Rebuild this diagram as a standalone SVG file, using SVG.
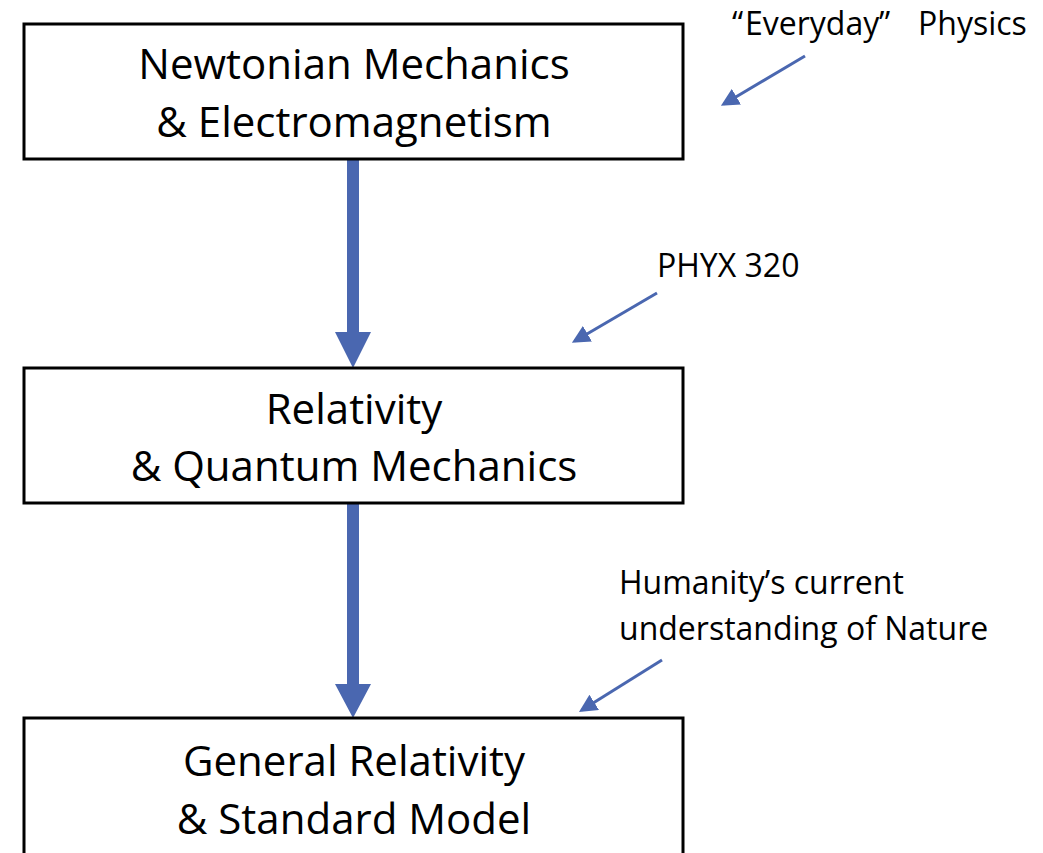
<svg xmlns="http://www.w3.org/2000/svg" width="1043" height="853" viewBox="0 0 1043 853">
  <style>
    .box { fill: #ffffff; stroke: #000000; stroke-width: 3; }
    .big { font-family: "Open Sans", "Liberation Sans", sans-serif; font-size: 42px; fill: #000000; text-anchor: middle; }
    .note { font-family: "Open Sans", "Liberation Sans", sans-serif; font-size: 32px; fill: #000000; }
    .flow { fill: #4A67B0; }
    .pointer { stroke: #4A67B0; stroke-width: 3; fill: none; marker-end: url(#tip); }
  </style>
  <defs>
    <marker id="tip" viewBox="0 0 10 10" refX="8" refY="5" markerWidth="6" markerHeight="6" markerUnits="strokeWidth" orient="auto">
      <path d="M0,0 L10,5 L0,10 Z" fill="#4A67B0"/>
    </marker>
  </defs>
  <rect width="1043" height="853" fill="#ffffff"/>

  <g id="connectors">
    <!-- thick flow arrows between boxes -->
    <path class="flow" d="M347,159 H359 V332 H371 L353,368 L335,332 H347 Z"/>
    <path class="flow" d="M347,503 H359 V684 H371 L353,718 L335,684 H347 Z"/>
    <!-- thin pointer arrows from the side notes -->
    <line class="pointer" x1="805" y1="56" x2="724" y2="104"/>
    <line class="pointer" x1="657" y1="293" x2="575" y2="341"/>
    <line class="pointer" x1="662" y1="660" x2="582" y2="710"/>
  </g>

  <g id="node-newtonian">
    <rect class="box" x="24" y="24" width="659" height="135"/>
    <text class="big" x="354" y="79">Newtonian Mechanics</text>
    <text class="big" x="354" y="137">&amp; Electromagnetism</text>
  </g>

  <g id="node-relativity-qm">
    <rect class="box" x="24" y="368" width="659" height="135"/>
    <text class="big" x="354" y="424">Relativity</text>
    <text class="big" x="354" y="481">&amp; Quantum Mechanics</text>
  </g>

  <g id="node-gr-sm">
    <rect class="box" x="24" y="718" width="659" height="150"/>
    <text class="big" x="354" y="776">General Relativity</text>
    <text class="big" x="354" y="834">&amp; Standard Model</text>
  </g>

  <g id="note-everyday">
    <text class="note" y="35"><tspan x="732">“</tspan><tspan x="745">Everyday</tspan><tspan x="879">”</tspan><tspan x="918">Physics</tspan></text>
  </g>
  <g id="note-phyx">
    <text class="note" x="657" y="277">PHYX 320</text>
  </g>
  <g id="note-humanity">
    <text class="note" x="619" y="594">Humanity’s current</text>
    <text class="note" x="619" y="640">understanding of Nature</text>
  </g>
</svg>
